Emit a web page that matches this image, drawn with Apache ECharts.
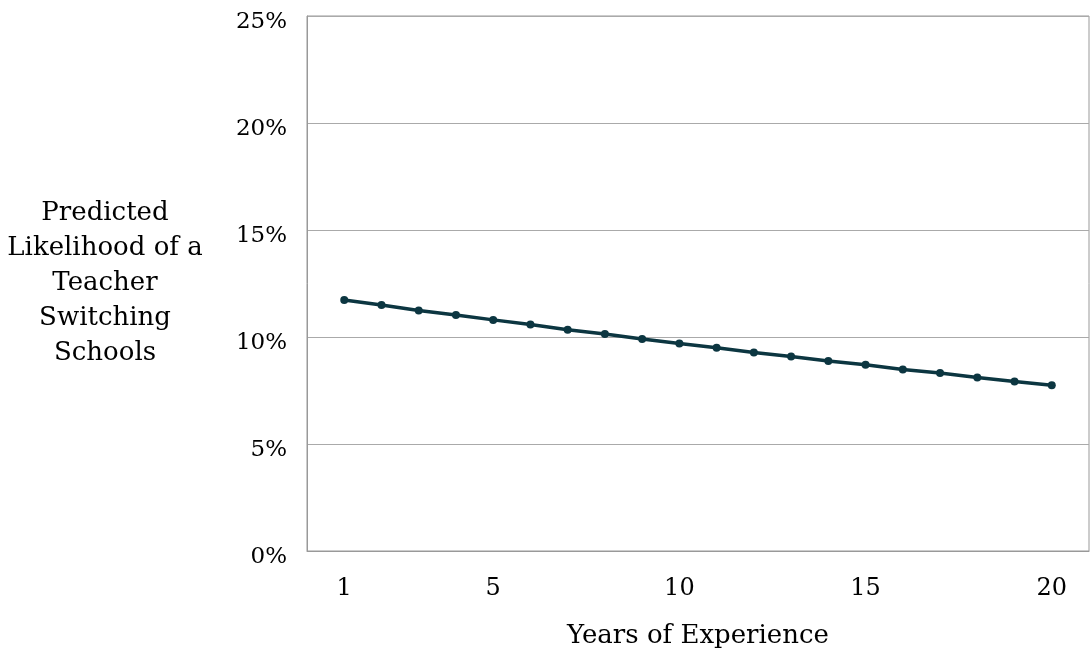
<!DOCTYPE html>
<html>
<head>
<meta charset="utf-8">
<script src="https://cdn.jsdelivr.net/npm/echarts@6/dist/echarts.min.js"></script>
<style>
  html, body { margin: 0; padding: 0; background: #fff; }
  #chart { width: 1091px; height: 656px; }
</style>
</head>
<body>
<div id="chart"></div>
<script>
// years of experience and predicted switching likelihood (%)
var years = [1, 2, 3, 4, 5, 6, 7, 8, 9, 10, 11, 12, 13, 14, 15, 16, 17, 18, 19, 20];
var likelihood = [11.73, 11.50, 11.24, 11.03, 10.80, 10.58, 10.34, 10.14, 9.91, 9.70,
                  9.50, 9.28, 9.09, 8.88, 8.70, 8.48, 8.32, 8.11, 7.92, 7.75];
var xTickLabels = [1, 5, 10, 15, 20];

var font = "DejaVu Serif";

var myChart = echarts.init(document.getElementById("chart"), null, { renderer: "canvas" });
var option = {
  animation: false,
  grid: {
    left: 307,
    right: 2,
    top: 16,
    bottom: 105,
    outerBoundsMode: "none",
    containLabel: false,
    show: true,
    borderColor: "#999",
    borderWidth: 1
  },
  xAxis: {
    type: "value",
    min: 0,
    max: 21,
    interval: 1,
    name: "Years of Experience",
    nameLocation: "middle",
    nameGap: 72,
    nameTextStyle: { fontFamily: font, fontSize: 26, color: "#000" },
    axisLine: { show: true, lineStyle: { color: "#999" } },
    axisTick: { show: false },
    splitLine: { show: false },
    axisLabel: {
      fontFamily: font,
      fontSize: 24,
      color: "#000",
      margin: 26,
      formatter: function (v) {
        return xTickLabels.indexOf(v) >= 0 ? String(v) : "";
      }
    }
  },
  yAxis: {
    type: "value",
    min: 0,
    max: 25,
    interval: 5,
    name: "Predicted\nLikelihood of a\nTeacher\nSwitching\nSchools",
    nameLocation: "middle",
    nameRotate: 0,
    nameGap: 202,
    nameTextStyle: {
      fontFamily: font,
      fontSize: 26,
      color: "#000",
      align: "center",
      verticalAlign: "middle",
      lineHeight: 35,
      padding: [5, 0, 0, 0]
    },
    axisLine: { show: true, lineStyle: { color: "#999" } },
    axisTick: { show: false },
    splitLine: { show: true, lineStyle: { color: "#aaa", width: 1 } },
    axisLabel: {
      fontFamily: font,
      fontSize: 23,
      color: "#000",
      margin: 20,
      verticalAlign: "top",
      lineHeight: 12,
      formatter: "{value}%"
    }
  },
  series: [
    {
      type: "line",
      data: years.map(function (y, i) { return [y, likelihood[i]]; }),
      symbol: "circle",
      symbolSize: 8,
      lineStyle: { color: "#0c3641", width: 3.5 },
      itemStyle: { color: "#0c3641" }
    }
  ]
};
myChart.setOption(option);
</script>
</body>
</html>
